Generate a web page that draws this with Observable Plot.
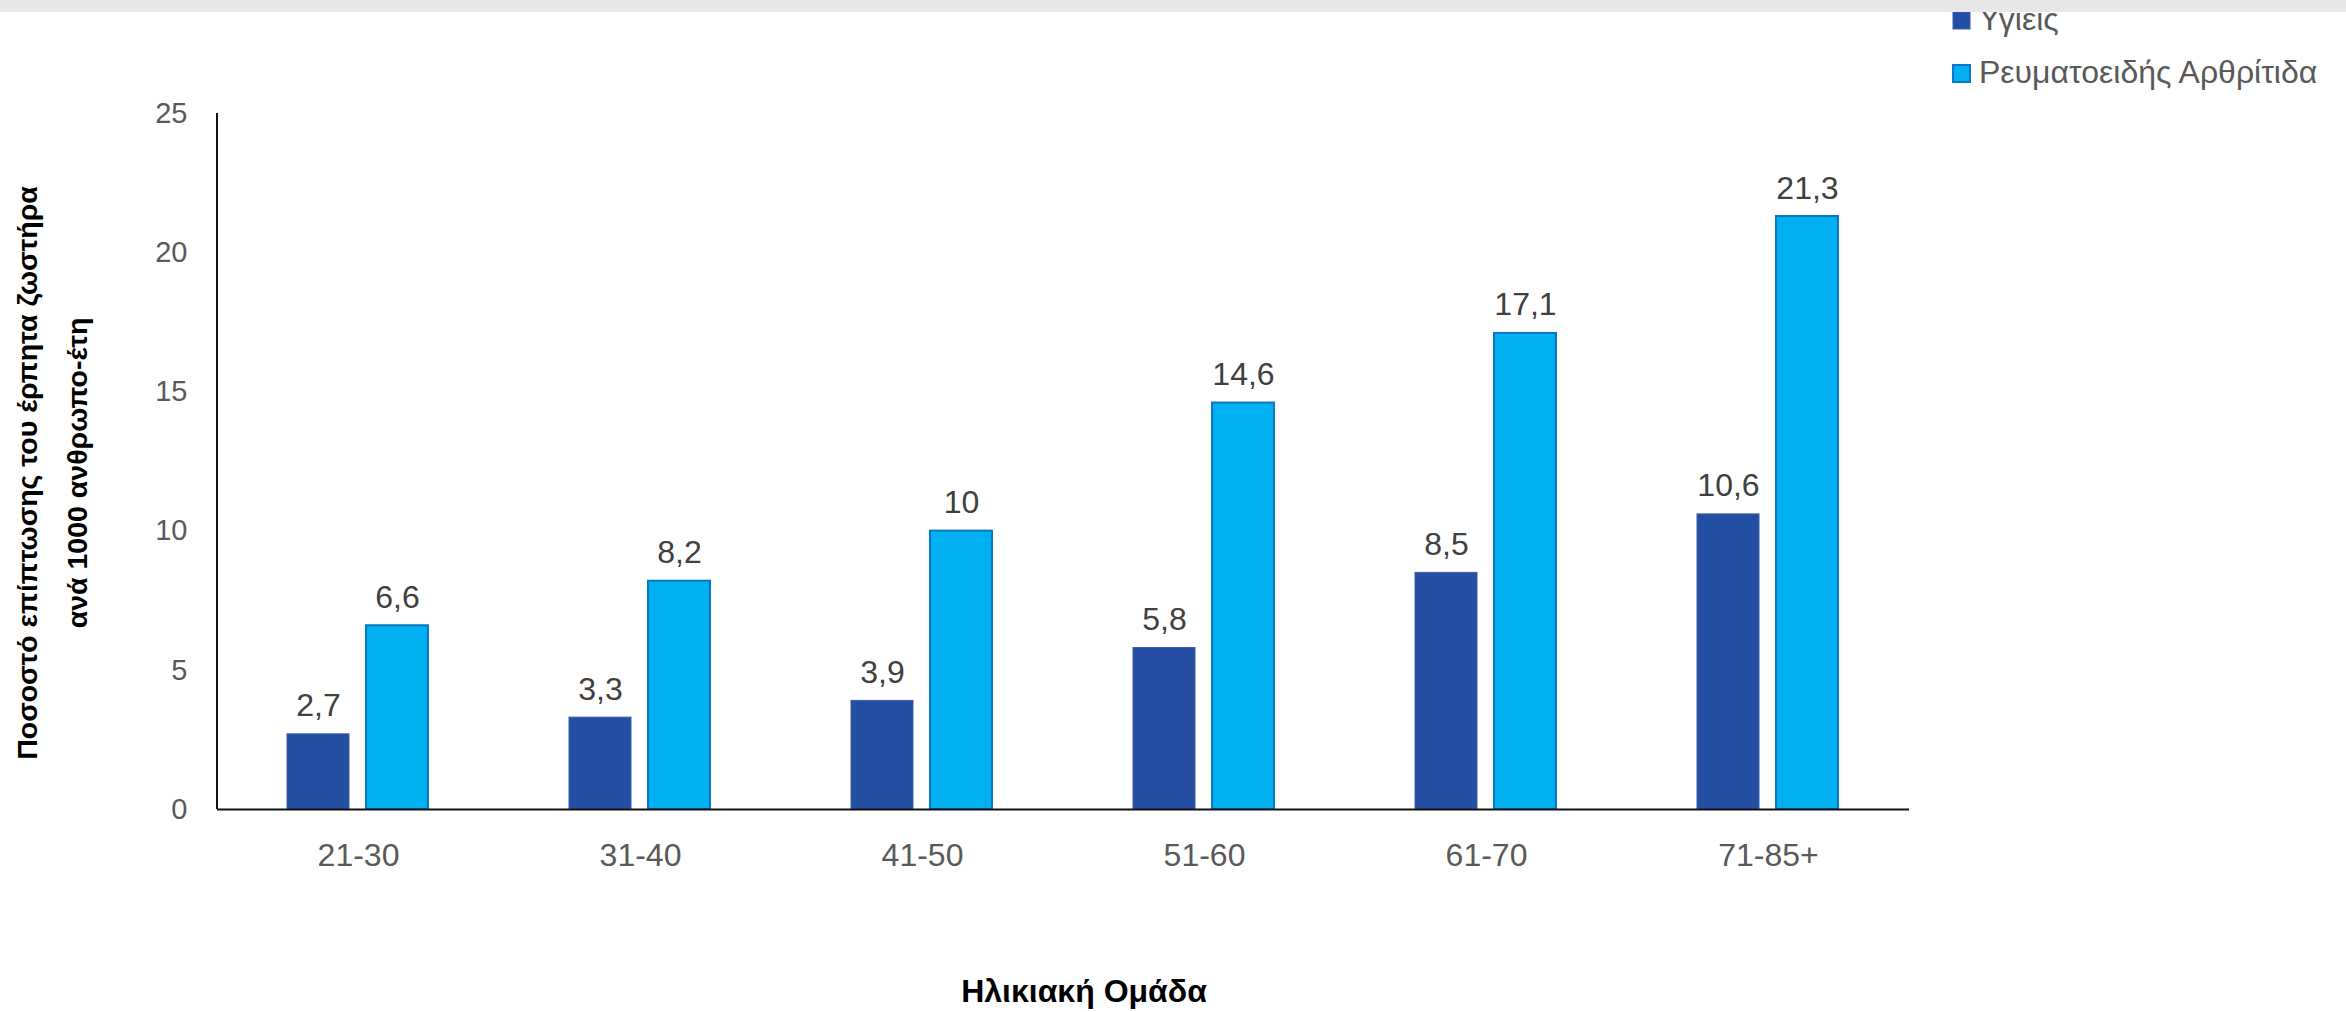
<!DOCTYPE html>
<html>
<head>
<meta charset="utf-8">
<script src="https://cdn.jsdelivr.net/npm/d3@7"></script>
<script src="https://cdn.jsdelivr.net/npm/@observablehq/plot@0.6"></script>
<style>
  html, body { margin: 0; padding: 0; background: #fff; }
  #chart svg { display: block; }
</style>
</head>
<body>
<div id="chart"></div>
<script>
// Herpes zoster incidence per 1000 person-years, by age group
const ageGroups = ["21-30", "31-40", "41-50", "51-60", "61-70", "71-85+"];
const seriesNames = ["Υγιείς", "Ρευματοειδής Αρθρίτιδα"];
const healthy = [2.7, 3.3, 3.9, 5.8, 8.5, 10.6];
const arthritis = [6.6, 8.2, 10, 14.6, 17.1, 21.3];
const yTicks = [0, 5, 10, 15, 20, 25];
const yTitleLines = ["Ποσοστό επίπτωσης του έρπητα ζωστήρα", "ανά 1000 ανθρωπο-έτη"];
const xTitle = "Ηλικιακή Ομάδα";

const seriesFill = ["#234ea1", "#00b0f0"];
const seriesStroke = ["#3a5fab", "#0b77c5"];

const rows = ageGroups.flatMap((g, i) => [
  {group: g, series: seriesNames[0], value: healthy[i]},
  {group: g, series: seriesNames[1], value: arthritis[i]}
]);
const fmt = v => String(v).replace(".", ",");

const W = 2346, H = 1012;

const chart = Plot.plot({
  width: W,
  height: H,
  marginTop: 113,
  marginBottom: 203,
  marginLeft: 217,
  marginRight: 437,
  style: {fontFamily: "'Liberation Sans', Arial, sans-serif", fontSize: "29px", color: "#595959", background: "#fff"},
  fx: {domain: ageGroups, padding: 0, axis: "bottom", label: null, tickSize: 0, tickPadding: 34},
  x: {domain: seriesNames, axis: null, paddingInner: 0.2125, paddingOuter: 0.869},
  y: {domain: [0, 25], ticks: yTicks, label: null, tickSize: 0, tickPadding: 30},
  color: {domain: seriesNames, range: seriesFill},
  marks: [
    ...seriesNames.map((s, k) =>
      Plot.barY(rows.filter(d => d.series === s), {
        fx: "group", x: "series", y: "value", fill: "series",
        stroke: seriesStroke[k], strokeWidth: k === 1 ? 2 : 1
      })
    ),
    Plot.ruleY([0], {stroke: "#111", strokeWidth: 2}),
    Plot.text(rows, {
      fx: "group", x: "series", y: "value", text: d => fmt(d.value),
      lineAnchor: "bottom", dy: -18, fill: "#404040", fontSize: 32
    })
  ]
});

document.getElementById("chart").appendChild(chart);

const svg = d3.select(chart);
// larger age-group labels along the bottom
svg.selectAll("[aria-label='fx-axis tick label'] text, [aria-label='fx-axis tick label']").attr("font-size", 32);

const fxScale = chart.scale("fx");
const yScale = chart.scale("y");
const color = chart.scale("color");
const axisX = fxScale.apply(ageGroups[0]);

// vertical axis line
svg.append("line")
  .attr("x1", axisX).attr("x2", axisX)
  .attr("y1", yScale.apply(25)).attr("y2", yScale.apply(0))
  .attr("stroke", "#111").attr("stroke-width", 2);

// y-axis title (two rotated lines)
const yMid = (yScale.apply(0) + yScale.apply(25)) / 2 + 12;
[37, 87].forEach((bx, i) => {
  svg.append("text")
    .attr("transform", `translate(${bx},${yMid}) rotate(-90)`)
    .attr("text-anchor", "middle")
    .attr("fill", "#000")
    .attr("font-weight", "bold")
    .attr("font-size", 28.5)
    .text(yTitleLines[i]);
});

// x-axis title
const fxEnd = fxScale.apply(ageGroups[ageGroups.length - 1]) + fxScale.bandwidth;
svg.append("text")
  .attr("x", (axisX + fxEnd) / 2 + 21)
  .attr("y", 1002)
  .attr("text-anchor", "middle")
  .attr("fill", "#000")
  .attr("font-weight", "bold")
  .attr("font-size", 32)
  .text(xTitle);

// legend, top right
const legend = svg.append("g").attr("font-size", 32).attr("fill", "#595959").attr("text-anchor", "start");
seriesNames.forEach((s, i) => {
  const base = 30 + i * 53;
  legend.append("rect")
    .attr("x", 1953).attr("y", base - 18).attr("width", 17).attr("height", 17)
    .attr("fill", color.apply(s))
    .attr("stroke", seriesStroke[i]).attr("stroke-width", i === 1 ? 2 : 1);
  legend.append("text").attr("x", 1979).attr("y", base).attr("text-anchor", "start").text(s);
});

// grey strip along the top edge
svg.append("rect").attr("x", 0).attr("y", 0).attr("width", W).attr("height", 12).attr("fill", "#e8e8e8");
</script>
</body>
</html>
